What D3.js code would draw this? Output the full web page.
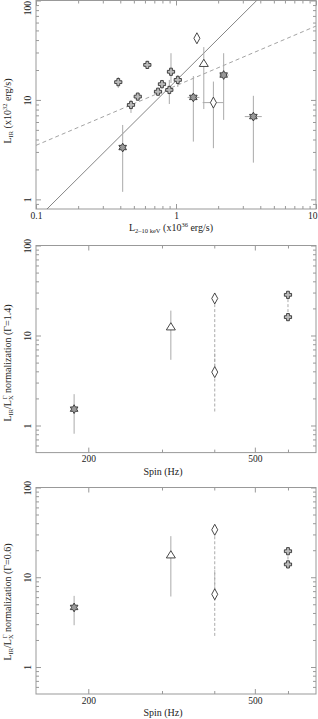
<!DOCTYPE html>
<html>
<head>
<meta charset="utf-8">
<script src="https://cdn.jsdelivr.net/npm/d3@7"></script>
<style>
  body { margin: 0; background: #fff; }
  svg text { font-family: "Liberation Serif", "Times New Roman", Times, serif; }
</style>
</head>
<body>
<svg id="chart" width="318" height="719"></svg>
<script>
// ---- panel 1 : L_IR vs L_2-10keV ----
var crossLx   = [0.387, 0.624, 0.533, 0.477, 0.794, 0.744, 0.921, 0.896, 1.03];
var crossIR   = [15.1, 22.5, 10.8, 8.9, 14.4, 12.1, 19.2, 12.6, 15.9];
var crossIRlo = [13.2, 20.5, 9.9, 7.4, 13.0, 11.2, 14.8, 9.1, 13.5];
var crossIRhi = [17.0, 24.7, 11.7, 10.0, 15.9, 13.0, 29.5, 15.9, 17.8];

var starLx   = [1.33, 2.19, 3.57, 0.416];
var starLxlo = [1.21, 2.04, 3.1, 0.40];
var starLxhi = [1.47, 2.38, 4.1, 0.44];
var starIR   = [10.6, 17.8, 6.8, 3.32];
var starIRlo = [3.81, 6.3, 2.34, 1.19];
var starIRhi = [17.4, 29.5, 11.0, 5.6];

var diamLx   = [1.41, 1.85];
var diamLxlo = [1.41, 1.55];
var diamLxhi = [1.41, 2.18];
var diamIR   = [41.7, 9.4];
var diamIRlo = [41.7, 3.27];
var diamIRhi = [41.7, 15.3];

var triLx   = [1.58];
var triIR   = [23.0];
var triIRlo = [8.1];
var triIRhi = [34.0];

// power law fits  L_IR = norm * Lx^gamma
var fitNorm  = [15.6, 13.9];
var fitGamma = [1.4, 0.6];
var fitDash  = [false, true];

// ---- panels 2 and 3 : normalization vs spin ----
var spin     = [185, 315, 401, 401, 600, 600];
var kind     = ["star", "tri", "diam", "diam", "cross", "cross"];
var norm14   = [1.52, 12.3, 25.8, 3.92, 28.3, 16.0];
var norm14lo = [0.81, 5.37, null, 1.43, null, null];
var norm14hi = [2.23, 18.9, null, 6.4, null, null];
var norm06   = [4.61, 17.5, 33.8, 6.46, 19.5, 13.9];
var norm06lo = [2.92, 6.1, null, 2.22, null, null];
var norm06hi = [6.2, 28.7, null, 12.0, null, null];
var pairs    = [[2, 3], [4, 5]];

var svg = d3.select("#chart");
var frameCol = "#999", textCol = "#222", errCol = "#aaa", markCol = "#333";
var serif = "'Liberation Serif', 'Times New Roman', Times, serif";

// marker shapes
function crossPath() {
  var r = 3.6, a = 1.4;
  return "M" + -a + "," + -r + "H" + a + "V" + -a + "H" + r + "V" + a + "H" + a + "V" + r +
         "H" + -a + "V" + a + "H" + -r + "V" + -a + "H" + -a + "Z";
}
function starPath() {
  var R = 4.4, r = R / Math.sqrt(3), p = [];
  for (var k = 0; k < 12; k++) {
    var ang = (-90 + 30 * k) * Math.PI / 180;
    var rr = (k % 2 == 0) ? R : r;
    p.push([rr * Math.cos(ang), rr * Math.sin(ang)]);
  }
  return "M" + p.map(function(d) { return d[0].toFixed(2) + "," + d[1].toFixed(2); }).join("L") + "Z";
}
function diamPath() { return "M0,-5.5L3,0L0,5.5L-3,0Z"; }
function triPath() { return "M0,-4.7L4.5,2.5L-4.5,2.5Z"; }
var shapes = {
  cross: { d: crossPath(), fill: "#bbb" },
  star:  { d: starPath(), fill: "#999" },
  diam:  { d: diamPath(), fill: "#fff" },
  tri:   { d: triPath(), fill: "#fff" }
};

function minorTicks(lo, hi) {
  var out = [];
  for (var e = Math.floor(Math.log10(lo)); e <= Math.ceil(Math.log10(hi)); e++) {
    for (var m = 2; m <= 9; m++) {
      var v = m * Math.pow(10, e);
      if (v > lo * 1.0001 && v < hi * 0.9999) out.push(v);
    }
  }
  return out;
}

function frame(g, x, y, xMajor, xMinor, yMajor, yMinor, id) {
  var r = x.range(), t = y.range();
  var left = r[0], right = r[1], bottom = t[0], top = t[1];
  g.append("clipPath").attr("id", id).append("rect")
    .attr("x", left).attr("y", top).attr("width", right - left).attr("height", bottom - top);

  function ax(axis, tf) {
    var a = g.append("g").attr("transform", tf).call(axis);
    a.attr("font-family", serif);
    a.select(".domain").remove();
    a.selectAll("line").attr("stroke", frameCol);
    a.selectAll("text").attr("fill", textCol).style("font-size", "9.5px")
      .style("font-family", serif);
    return a;
  }
  // bottom / top
  var xb = ax(d3.axisBottom(x).tickValues(xMajor).tickSize(-5).tickPadding(3).tickFormat(d3.format("")),
     "translate(0," + bottom + ")");
  // keep the last label inside the picture
  xb.selectAll("text").filter(function(d) { return x(d) > 310; })
    .style("text-anchor", "end").attr("dx", 1);
  ax(d3.axisBottom(x).tickValues(xMinor).tickSize(-3).tickFormat(""), "translate(0," + bottom + ")");
  ax(d3.axisTop(x).tickValues(xMajor).tickSize(-5).tickFormat(""), "translate(0," + top + ")");
  ax(d3.axisTop(x).tickValues(xMinor).tickSize(-3).tickFormat(""), "translate(0," + top + ")");
  // left / right
  var yl = ax(d3.axisLeft(y).tickValues(yMajor).tickSize(-5).tickFormat(d3.format("")),
     "translate(" + left + ",0)");
  yl.selectAll("text")
    .attr("transform", "rotate(-90)")
    .attr("x", 0).attr("y", -5).attr("dy", 0)
    .style("text-anchor", "middle");
  yl.selectAll("text").filter(function(d) { return y(d) < 8; })
    .style("text-anchor", "end").attr("x", 0);
  ax(d3.axisLeft(y).tickValues(yMinor).tickSize(-3).tickFormat(""), "translate(" + left + ",0)");
  ax(d3.axisRight(y).tickValues(yMajor).tickSize(-5).tickFormat(""), "translate(" + right + ",0)");
  ax(d3.axisRight(y).tickValues(yMinor).tickSize(-3).tickFormat(""), "translate(" + right + ",0)");

  g.append("rect")
    .attr("x", left).attr("y", top).attr("width", right - left).attr("height", bottom - top)
    .attr("fill", "none").attr("stroke", frameCol).attr("stroke-width", 1);
}

function vbar(g, x, y, xv, lo, hi, dash) {
  g.append("line")
    .attr("x1", x(xv)).attr("x2", x(xv)).attr("y1", y(lo)).attr("y2", y(hi))
    .attr("stroke", errCol).attr("stroke-width", 1)
    .attr("stroke-dasharray", dash ? "3,2" : null);
}
function hbar(g, x, y, yv, lo, hi) {
  g.append("line")
    .attr("x1", x(lo)).attr("x2", x(hi)).attr("y1", y(yv)).attr("y2", y(yv))
    .attr("stroke", errCol).attr("stroke-width", 1);
}
function marker(g, px, py, type) {
  g.append("path")
    .attr("d", shapes[type].d)
    .attr("transform", "translate(" + px + "," + py + ")")
    .attr("fill", shapes[type].fill)
    .attr("stroke", markCol).attr("stroke-width", 0.9);
}

// ================= panel 1 =================
var x1 = d3.scaleLog().domain([0.1, 10]).range([36, 316]);
var y1 = d3.scaleLog().domain([0.8, 100]).range([209, 0.5]);
var g1 = svg.append("g");
frame(g1, x1, y1, [0.1, 1, 10], minorTicks(0.1, 10), [1, 10, 100], minorTicks(0.8, 100), "clip1");

var fits = g1.append("g").attr("clip-path", "url(#clip1)");
fitNorm.forEach(function(n, i) {
  var xs = x1.domain();
  var line = d3.line().x(function(d) { return x1(d); })
    .y(function(d) { return y1(n * Math.pow(d, fitGamma[i])); });
  fits.append("path")
    .datum(xs)
    .attr("d", line)
    .attr("fill", "none")
    .attr("stroke", fitDash[i] ? "#999" : "#777")
    .attr("stroke-width", 0.9)
    .attr("stroke-dasharray", fitDash[i] ? "4,3" : null);
});

var m1 = g1.append("g");
crossLx.forEach(function(v, i) {
  vbar(m1, x1, y1, v, crossIRlo[i], crossIRhi[i]);
});
starLx.forEach(function(v, i) {
  vbar(m1, x1, y1, v, starIRlo[i], starIRhi[i]);
  hbar(m1, x1, y1, starIR[i], starLxlo[i], starLxhi[i]);
});
diamLx.forEach(function(v, i) {
  vbar(m1, x1, y1, v, diamIRlo[i], diamIRhi[i]);
  hbar(m1, x1, y1, diamIR[i], diamLxlo[i], diamLxhi[i]);
});
triLx.forEach(function(v, i) {
  vbar(m1, x1, y1, v, triIRlo[i], triIRhi[i]);
});
crossLx.forEach(function(v, i) { marker(m1, x1(v), y1(crossIR[i]), "cross"); });
starLx.forEach(function(v, i) { marker(m1, x1(v), y1(starIR[i]), "star"); });
diamLx.forEach(function(v, i) { marker(m1, x1(v), y1(diamIR[i]), "diam"); });
triLx.forEach(function(v, i) { marker(m1, x1(v), y1(triIR[i]), "tri"); });

// axis titles panel 1
var t1 = g1.append("text").attr("x", 171).attr("y", 231).attr("text-anchor", "middle")
  .attr("fill", textCol).style("font-size", "10px");
t1.append("tspan").text("L");
t1.append("tspan").attr("dy", 2).style("font-size", "6.5px").text("2\u201310 keV");
t1.append("tspan").attr("dy", -2).text(" (x10");
t1.append("tspan").attr("dy", -4).style("font-size", "6.5px").text("36");
t1.append("tspan").attr("dy", 4).text(" erg/s)");

var yt1 = g1.append("text").attr("transform", "translate(11,111) rotate(-90)")
  .attr("text-anchor", "middle").attr("fill", textCol).style("font-size", "10px");
yt1.append("tspan").text("L");
yt1.append("tspan").attr("dy", 2).style("font-size", "6.5px").text("IR");
yt1.append("tspan").attr("dy", -2).text(" (x10");
yt1.append("tspan").attr("dy", -4).style("font-size", "6.5px").text("32");
yt1.append("tspan").attr("dy", 4).text(" erg/s)");

// ================= panels 2, 3 =================
function spinPanel(top, bottom, vals, lo, hi, gammaLabel, yTitleY, id) {
  var x = d3.scaleLog().domain([150, 700]).range([36, 316]);
  var y = d3.scaleLog().domain([0.5, 100]).range([bottom, top]);
  var g = svg.append("g");
  frame(g, x, y, [200, 500], [300, 400, 600], [1, 10, 100], minorTicks(0.5, 100), id);

  pairs.forEach(function(p) {
    vbar(g, x, y, spin[p[0]], vals[p[1]], vals[p[0]], true);
  });
  spin.forEach(function(s, i) {
    if (lo[i] != null) vbar(g, x, y, s, lo[i], hi[i], kind[i] == "diam");
  });
  spin.forEach(function(s, i) { marker(g, x(s), y(vals[i]), kind[i]); });

  g.append("text").attr("x", 163).attr("y", bottom + 22).attr("text-anchor", "middle")
    .attr("fill", textCol).style("font-size", "10px").text("Spin (Hz)");

  var yt = g.append("text").attr("transform", "translate(11," + yTitleY + ") rotate(-90)")
    .attr("text-anchor", "middle").attr("fill", textCol).style("font-size", "10px");
  yt.append("tspan").text("L");
  yt.append("tspan").attr("dy", 2).style("font-size", "6.5px").text("IR");
  yt.append("tspan").attr("dy", -2).text("/L");
  yt.append("tspan").attr("dy", 2).style("font-size", "6.5px").text("X");
  yt.append("tspan").attr("dy", -6).attr("dx", -4).style("font-size", "6.5px").text("\u0393");
  yt.append("tspan").attr("dy", 4).text(" normalization (\u0393=" + gammaLabel + ")");
}

spinPanel(245.5, 452.6, norm14, norm14lo, norm14hi, "1.4", 363, "clip2");
spinPanel(487.5, 694, norm06, norm06lo, norm06hi, "0.6", 602, "clip3");
</script>
</body>
</html>
